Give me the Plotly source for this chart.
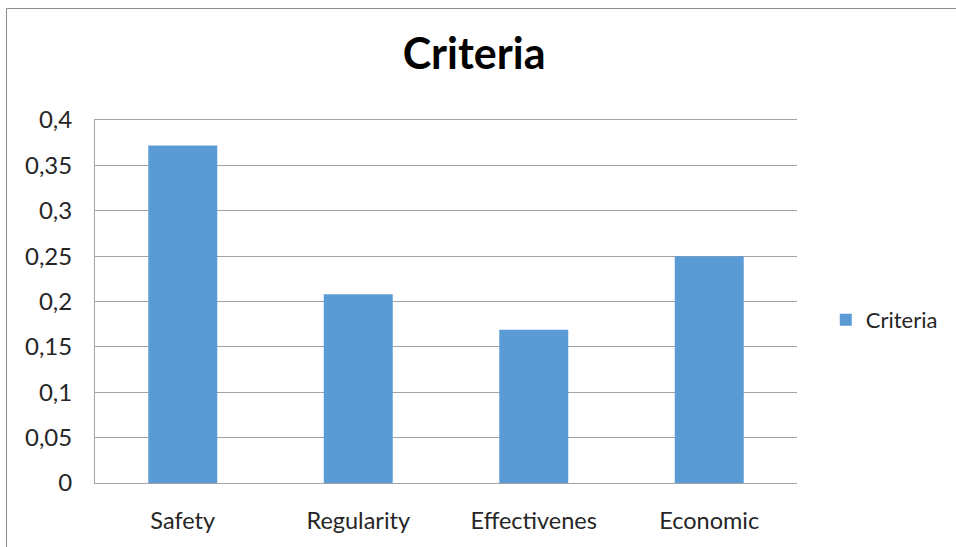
import plotly.graph_objects as go

# Criteria weights
categories = ["Safety", "Regularity", "Effectivenes", "Economic"]
values = [0.372, 0.208, 0.169, 0.250]
series_name = "Criteria"

tick_vals = [0, 0.05, 0.1, 0.15, 0.2, 0.25, 0.3, 0.35, 0.4]
tick_text = ["0", "0,05", "0,1", "0,15", "0,2", "0,25", "0,3", "0,35", "0,4"]

BAR_COLOR = "#5B9BD5"
GRID_COLOR = "#a3a3a3"
TEXT_COLOR = "#262626"
FONT = "Lato"

W, H = 956, 547
L, R, T, B = 95, 159, 120, 64

fig = go.Figure(
    go.Bar(
        x=categories,
        y=values,
        name=series_name,
        marker=dict(color=BAR_COLOR, line=dict(width=0)),
        showlegend=True,
    )
)

fig.update_layout(
    width=W,
    height=H,
    margin=dict(l=L, r=R, t=T, b=B, pad=0),
    paper_bgcolor="white",
    plot_bgcolor="white",
    bargap=0.607,
    font=dict(family=FONT, size=24, color=TEXT_COLOR),
    title=dict(
        text="<b>Criteria</b>",
        font=dict(family=FONT, size=43, color="#000000"),
        x=0.496,
        xref="container",
        xanchor="center",
        y=1 - 54 / H,
        yref="container",
        yanchor="middle",
    ),
    legend=dict(
        x=1.041,
        xanchor="left",
        y=0.449,
        yanchor="middle",
        font=dict(family=FONT, size=22, color=TEXT_COLOR),
        bgcolor="rgba(0,0,0,0)",
    ),
    xaxis=dict(
        showgrid=False,
        showline=True,
        mirror=True,
        linecolor=GRID_COLOR,
        linewidth=1,
        ticks="",
        ticklabelstandoff=17,
        tickfont=dict(family=FONT, size=23.5, color=TEXT_COLOR),
    ),
    yaxis=dict(
        range=[0, 0.4],
        tickvals=tick_vals,
        ticktext=tick_text,
        showgrid=True,
        gridcolor=GRID_COLOR,
        gridwidth=1,
        showline=True,
        linecolor=GRID_COLOR,
        linewidth=1,
        zeroline=False,
        ticks="",
        ticklabelstandoff=17,
        tickfont=dict(family=FONT, size=24, color=TEXT_COLOR),
    ),
)

# Chart frame
pw = W - L - R
ph = H - T - B
fig.add_shape(
    type="rect",
    xref="paper",
    yref="paper",
    x0=(6.5 - L) / pw,
    x1=(W + 5 - L) / pw,
    y0=-(B + 5) / ph,
    y1=(H - B - 8.5) / ph,
    line=dict(color="#8c8c8c", width=1),
    fillcolor="rgba(0,0,0,0)",
    layer="below",
)

fig.write_html("out.html")
